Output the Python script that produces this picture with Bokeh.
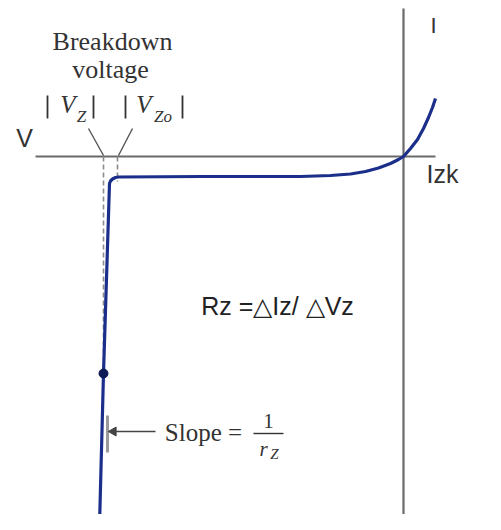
from bokeh.plotting import figure
from bokeh.models import Range1d
from bokeh.core.properties import value
from bokeh.embed import file_html
from bokeh.resources import INLINE

# Zener diode characteristic (arbitrary units,
# V positive to the right, I positive upward, origin at the axes crossing)
curve_v = [-304, -300, -294, -293, -291, -288, -285, -200, -103, -73, -53, -38, -25,
           -13, -5, 0, 7, 14, 20, 25, 29, 32]
curve_i = [-369, -217, -27, -24.5, -22.5, -21, -20.5, -20, -20, -19, -17.5, -15, -11.5,
           -7, -3, 0, 8, 17, 28, 39, 49, 58]

# operating point on the breakdown line
q_v = [-300]
q_i = [-217]

# breakdown voltages |Vz| and |Vzo|
vz = -300
vzo = -286

# axis extents
v_axis = [-368, 32]
i_axis = [148, -380]

W, H = 485, 514
p = figure(width=W, height=H, output_backend="svg", toolbar_location=None,
           x_range=Range1d(-403, 82), y_range=Range1d(156 - H, 156),
           min_border=0)
p.axis.visible = False
p.grid.visible = False
p.outline_line_color = None
p.background_fill_color = "white"
p.border_fill_color = "white"

axis_col = "#6a6a6a"
blue = "#1b2f8a"
serif = value("Liberation Serif")
sans = value("Liberation Sans")
tcol = "#333333"

# axes
p.line(v_axis, [0, 0], line_color=axis_col, line_width=2.2)
p.line([0, 0], i_axis, line_color=axis_col, line_width=2.2)

# dashed breakdown markers
p.line([vz, vz], [0, q_i[0]], line_color="#8a8a8a", line_width=1.6, line_dash="5 3")
p.line([vzo, vzo], [0, -25], line_color="#8a8a8a", line_width=1.6, line_dash="5 3")

# callout lines from |Vz|, |Vzo| labels
p.segment(x0=[-315, -271], y0=[28, 28], x1=[vz, vzo + 1], y1=[1, 1],
          line_color="#555555", line_width=1.4)

# curve
p.line(curve_v, curve_i, line_color=blue, line_width=3.2, line_join="round")
p.scatter(q_v, q_i, size=9, color="#0d1a55")

# slope bracket and arrow
p.segment(x0=[-296], y0=[-259], x1=[-296], y1=[-296], line_color="#9a9a9a", line_width=3)
p.segment(x0=[-248], y0=[-275], x1=[-290], y1=[-275], line_color="#444444", line_width=1.5)
p.scatter([-290], [-275], marker="triangle", angle=1.5708, size=9, color="#444444")

# texts
p.text([-291], [115], text=["Breakdown"], text_font=serif, text_font_size="26px",
       text_color=tcol, text_align="center", text_baseline="middle")
p.text([-293], [87], text=["voltage"], text_font=serif, text_font_size="26px",
       text_color=tcol, text_align="center", text_baseline="middle")

# |Vz| and |Vzo| (absolute-value bars drawn as strokes)
bar_x = [-356, -310, -278, -221]
p.segment(x0=bar_x, y0=[61] * 4, x1=bar_x, y1=[38] * 4, line_color=tcol, line_width=1.8)
p.text([-335.5, -259.5], [52, 52], text=["V", "V"], text_font=serif, text_font_style="italic",
       text_font_size="25px", text_color=tcol, text_align="center", text_baseline="middle")
p.text([-322, -240.5], [40, 40], text=["Z", "Zo"], text_font=serif, text_font_style="italic",
       text_font_size="17px", text_color=tcol, text_align="center", text_baseline="middle")

# axis labels
p.text([-379], [19], text=["V"], text_font=sans, text_font_size="25px",
       text_color="#333333", text_align="center", text_baseline="middle")
p.text([30], [131], text=["I"], text_font=sans, text_font_size="22px",
       text_color="#333333", text_align="center", text_baseline="middle")
p.text([39], [-17], text=["Izk"], text_font=sans, text_font_size="25px",
       text_color="#333333", text_align="center", text_baseline="middle")

# Rz formula
p.text([-126], [-149], text=["Rz =\u25b3Iz/ \u25b3Vz"], text_font=sans, text_font_size="25px",
       text_color="#222222", text_align="center", text_baseline="middle")

# Slope = 1 / rZ
p.text([-200], [-276], text=["Slope ="], text_font=serif, text_font_size="25px",
       text_color=tcol, text_align="center", text_baseline="middle")
p.text([-135], [-264], text=["1"], text_font=serif, text_font_size="21px",
       text_color=tcol, text_align="center", text_baseline="middle")
p.segment(x0=[-150], y0=[-277], x1=[-120], y1=[-277], line_color=tcol, line_width=1.4)
p.text([-140], [-292], text=["r"], text_font=serif, text_font_style="italic",
       text_font_size="21px", text_color=tcol, text_align="center", text_baseline="middle")
p.text([-129], [-297], text=["Z"], text_font=serif, text_font_style="italic",
       text_font_size="15px", text_color=tcol, text_align="center", text_baseline="middle")

open("out.html", "w").write(file_html(p, INLINE))
